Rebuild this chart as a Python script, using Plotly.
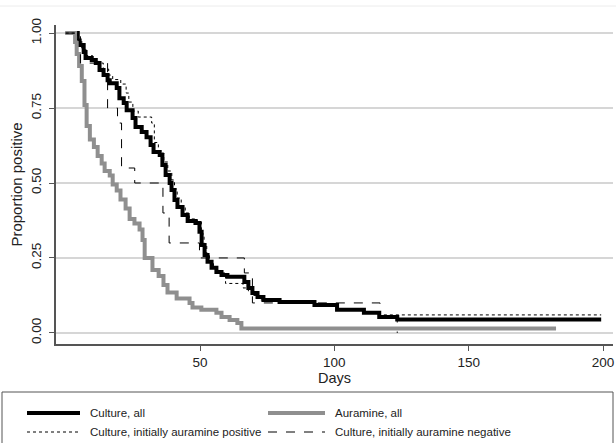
import plotly.graph_objects as go

# ---- data (Kaplan-Meier style step curves) ----
culture_all_days = [0, 4.5, 5.2, 6.7, 7.4, 9.7, 11.2, 12.6, 14.1, 15.6, 16.4, 19.0, 20.0, 21.6, 22.7,
                    24.9, 26.0, 28.3, 30.1, 31.6, 32.7, 35.0, 36.0, 37.2, 38.7, 39.4, 40.5, 41.6,
                    43.5, 45.4, 48.3, 49.8, 50.6, 51.7, 52.8, 54.3, 56.1, 58.0, 60.2, 66.5, 68.0,
                    69.5, 71.4, 73.6, 79.6, 92.6, 101.0, 111.0, 116.7, 123.4, 199.3]
culture_all_surv = [1.0, 0.975, 0.96, 0.937, 0.917, 0.91, 0.90, 0.877, 0.86, 0.843, 0.833, 0.817,
                    0.783, 0.767, 0.743, 0.717, 0.687, 0.67, 0.653, 0.627, 0.603, 0.593, 0.56,
                    0.527, 0.50, 0.477, 0.443, 0.42, 0.393, 0.373, 0.367, 0.337, 0.293, 0.26,
                    0.237, 0.217, 0.203, 0.193, 0.187, 0.17, 0.15, 0.133, 0.12, 0.11, 0.103,
                    0.093, 0.077, 0.067, 0.053, 0.045, 0.045]

auramine_days = [0, 3.5, 4.1, 5.0, 6.0, 7.0, 7.8, 9.0, 10.5, 11.9, 13.4, 14.5, 16.4, 17.5, 19.0,
                 20.4, 22.3, 23.8, 25.6, 27.5, 28.6, 29.4, 32.3, 34.6, 36.4, 37.9, 41.3, 46.1,
                 47.2, 50.5, 56.1, 58.0, 61.0, 63.9, 65.4, 182.5]
auramine_surv = [1.0, 0.97, 0.93, 0.89, 0.84, 0.76, 0.69, 0.645, 0.62, 0.59, 0.565, 0.54, 0.525,
                 0.495, 0.475, 0.445, 0.415, 0.38, 0.365, 0.345, 0.31, 0.25, 0.21, 0.19, 0.16,
                 0.135, 0.115, 0.10, 0.085, 0.077, 0.067, 0.053, 0.043, 0.033, 0.015, 0.015]

aur_pos_days = [0, 4.5, 6.0, 7.5, 10.0, 12.0, 14.0, 16.0, 17.5, 20.5, 22.5, 23.5, 25.0, 27.0,
                32.0, 33.0, 34.5, 36.5, 38.0, 39.5, 40.5, 41.5, 43.0, 44.5, 46.0, 49.0, 50.5,
                51.5, 52.5, 53.5, 55.0, 57.0, 59.5, 66.0, 68.0, 70.0, 72.5, 80.0, 93.0, 101.0,
                110.5, 117.0, 199.3]
aur_pos_surv = [1.0, 0.975, 0.95, 0.925, 0.915, 0.90, 0.88, 0.86, 0.845, 0.83, 0.80, 0.77, 0.74,
                0.72, 0.70, 0.635, 0.60, 0.57, 0.54, 0.51, 0.48, 0.45, 0.42, 0.40, 0.38, 0.37,
                0.33, 0.29, 0.26, 0.235, 0.215, 0.20, 0.165, 0.15, 0.14, 0.125, 0.11, 0.105,
                0.095, 0.08, 0.07, 0.06, 0.06]

aur_neg_days = [0, 5.5, 15.6, 19.3, 20.8, 25.7, 36.2, 38.5, 49.8, 66.5, 69.5, 117.0, 123.4]
aur_neg_surv = [1.0, 0.90, 0.75, 0.70, 0.55, 0.50, 0.40, 0.30, 0.25, 0.20, 0.10, 0.05, 0.0]

series_names = ["Culture, all", "Auramine, all",
                "Culture, initially auramine positive", "Culture, initially auramine negative"]

x_ticks = [50, 100, 150, 200]
y_ticks = [0, 0.25, 0.5, 0.75, 1.0]
y_ticktext = ["0.00", "0.25", "0.50", "0.75", "1.00"]

FONT = "Liberation Sans, Arial, sans-serif"
GRAY = "#8f8f8f"
styles = [dict(color="#000000", width=4), dict(color=GRAY, width=4),
          dict(color="#000000", width=1, dash="dot"), dict(color="#000000", width=1, dash="dash")]

fig = go.Figure()
for xs, ys, nm, st in zip([culture_all_days, auramine_days, aur_pos_days, aur_neg_days],
                          [culture_all_surv, auramine_surv, aur_pos_surv, aur_neg_surv],
                          series_names, styles):
    fig.add_trace(go.Scatter(x=xs, y=ys, mode="lines", line_shape="hv", name=nm,
                             line=st, showlegend=False, hoverinfo="skip"))

L, R, T, B = 56, 3, 25, 99
W, H = 616, 443
pw, ph = W - L - R, H - T - B

def px_x(p):
    return (p - L) / pw

def px_y(p):
    return (H - B - p) / ph

# legend (drawn as a boxed key below the plot)
shapes = [
    dict(type="rect", xref="paper", yref="paper", x0=px_x(2), x1=px_x(613),
         y0=px_y(455), y1=px_y(392), line=dict(color="#555555", width=1)),
    dict(type="line", xref="paper", yref="paper", x0=px_x(0), x1=px_x(616),
         y0=px_y(6), y1=px_y(6), line=dict(color="#ececec", width=1)),
]
annotations = []
key_pos = [(27, 80, 413, 88), (268, 325, 413, 333), (27, 80, 432, 88), (268, 325, 432, 333)]
for (sx0, sx1, sy, tx), nm, st in zip(key_pos, series_names, styles):
    shapes.append(dict(type="line", xref="paper", yref="paper", x0=px_x(sx0), x1=px_x(sx1),
                       y0=px_y(sy), y1=px_y(sy), line=st))
    annotations.append(dict(text=nm, xref="paper", yref="paper", x=px_x(tx), y=px_y(sy),
                            xanchor="left", yanchor="middle", showarrow=False,
                            font=dict(family=FONT, size=11.5, color="#222222")))

fig.update_layout(
    width=W, height=H,
    margin=dict(l=L, r=R, t=T, b=B),
    paper_bgcolor="white", plot_bgcolor="white",
    font=dict(family=FONT, size=13, color="#222222"),
    showlegend=False,
    xaxis=dict(range=[-3.6, 203.7], tickvals=x_ticks, ticks="outside", ticklen=5,
               tickcolor="#555555", showline=True, linecolor="#555555", linewidth=1.5,
               showgrid=False, zeroline=False, automargin=False, ticklabeloverflow="allow",
               title=dict(text="Days", standoff=0, font=dict(size=14.5)),
               tickfont=dict(size=13.5)),
    yaxis=dict(range=[-0.037, 1.027], tickvals=y_ticks, ticktext=y_ticktext, tickangle=-90,
               ticks="outside", ticklen=5, tickcolor="#555555", showline=True,
               linecolor="#555555", linewidth=1.5, showgrid=True, gridcolor="#d6d6d6",
               gridwidth=1.5, zeroline=False, automargin=False, ticklabelstandoff=3,
               title=dict(text="Proportion positive", standoff=3, font=dict(size=15)),
               tickfont=dict(size=13.5)),
    shapes=shapes,
    annotations=annotations,
)

fig.write_html("out.html", config={"displayModeBar": False},
               post_script="document.body.style.margin='0';document.body.style.padding='0';")
